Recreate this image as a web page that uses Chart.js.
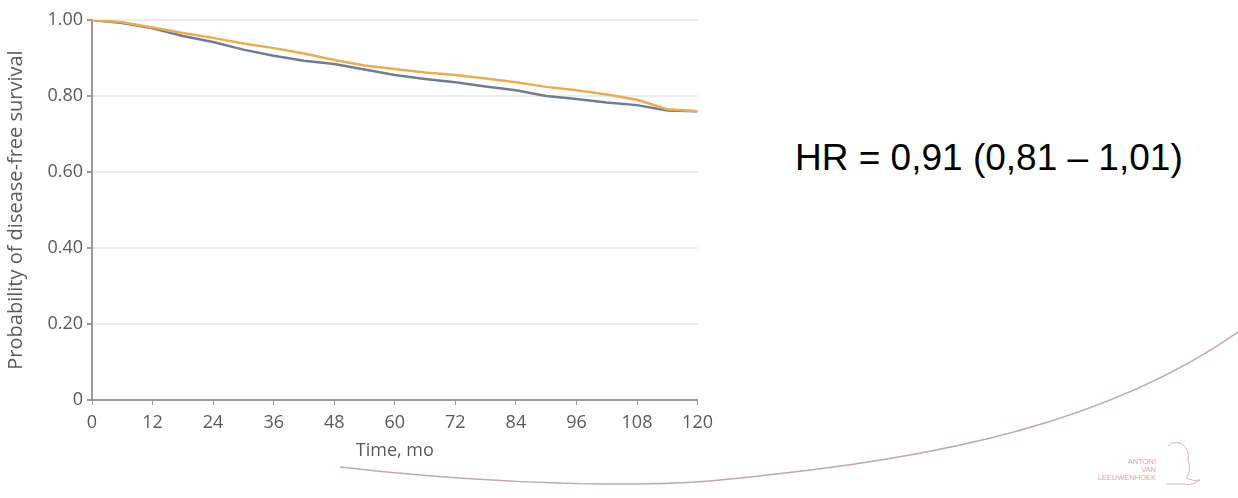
<!DOCTYPE html>
<html>
<head>
<meta charset="utf-8">
<script src="https://cdn.jsdelivr.net/npm/chart.js@4.4.1/dist/chart.umd.min.js"></script>
<style>
  html, body { margin: 0; padding: 0; background: #ffffff; }
  body { width: 1238px; height: 498px; position: relative; overflow: hidden; }
  #wrap { position: absolute; left: 0; top: 0; width: 720px; height: 462px; }
  #hr { position: absolute; left: 795px; top: 137px; font-family: "Liberation Sans", Arial, sans-serif; font-size: 37px; color: #000; white-space: nowrap; }
  #deco { position: absolute; left: 0; top: 0; }
  .logo { position: absolute; font-family: "Liberation Sans", Arial, sans-serif; font-size: 7.5px; color: #d3a7b3; text-align: right; line-height: 8px; }
</style>
</head>
<body>
<svg id="deco" width="1238" height="498">
  <path d="M 340 467 C 450 480, 620 490, 720 480 C 890 463, 1088 437, 1238 332" fill="none" stroke="#c7a3ae" stroke-width="1.5"/>
  <path d="M 1168 446 q 6 -6 14 -2 q 8 6 6 16 q 4 10 -2 18 q 8 4 14 2 q -8 6 -16 4 l -18 0" fill="none" stroke="#dcb5c0" stroke-width="1"/>
</svg>
<div class="logo" style="left:1094px; top:458px; width:62px;">ANTONI<br>VAN<br>LEEUWENHOEK</div>
<div id="wrap"><canvas id="c"></canvas></div>
<div id="hr">HR = 0,91 (0,81 – 1,01)</div>
<script>
// Time in months
const months = [0, 6, 12, 18, 24, 30, 36, 42, 48, 54, 60, 66, 72, 78, 84, 90, 96, 102, 108, 114, 120];
// Disease-free survival, grey/blue arm
const survivalGrey = [1.000, 0.992, 0.978, 0.958, 0.942, 0.922, 0.906, 0.893, 0.884, 0.870, 0.855, 0.845, 0.836, 0.825, 0.815, 0.800, 0.792, 0.783, 0.776, 0.762, 0.760];
// Disease-free survival, orange arm
const survivalOrange = [1.000, 0.994, 0.980, 0.966, 0.953, 0.938, 0.926, 0.912, 0.895, 0.880, 0.871, 0.862, 0.855, 0.846, 0.836, 0.824, 0.815, 0.804, 0.790, 0.765, 0.760];
// Axis ticks
const xTicks = [0, 12, 24, 36, 48, 60, 72, 84, 96, 108, 120];
const yTicks = [0, 0.2, 0.4, 0.6, 0.8, 1.0];
const yTickLabels = ["0", "0.20", "0.40", "0.60", "0.80", "1.00"];
const xTitle = "Time, mo";
const yTitle = "Probability of disease-free survival";

const toPts = (xs, ys) => xs.map((x, i) => ({ x: x, y: ys[i] }));

const tickFont = { family: "'Open Sans', sans-serif", size: 18 };
const textColor = "#5a5a5a";
const axisColor = "#9a9a9a";

new Chart(document.getElementById("c"), {
  type: "line",
  data: {
    datasets: [
      {
        label: "Orange",
        data: toPts(months, survivalOrange),
        borderColor: "#e9ac55",
        borderWidth: 2.5,
        pointRadius: 0,
        tension: 0,
        fill: false
      },
      {
        label: "Grey",
        data: toPts(months, survivalGrey),
        borderColor: "#717d8e",
        borderWidth: 2.5,
        pointRadius: 0,
        tension: 0,
        fill: false
      }
    ]
  },
  options: {
    responsive: true,
    maintainAspectRatio: false,
    animation: false,
    layout: { padding: { left: 0, right: 22, top: 20, bottom: 0 } },
    plugins: {
      legend: { display: false },
      tooltip: { enabled: false }
    },
    scales: {
      x: {
        type: "linear",
        min: 0,
        max: 120,
        afterBuildTicks: (s) => { s.ticks = xTicks.map(v => ({ value: v })); },
        afterFit: (s) => { s.height = 62; },
        ticks: {
          font: tickFont,
          color: textColor,
          padding: 7,
          maxRotation: 0,
          autoSkip: false
        },
        grid: {
          drawOnChartArea: false,
          drawTicks: true,
          tickLength: 5,
          tickColor: axisColor,
          lineWidth: 1
        },
        border: { display: true, color: axisColor, width: 2 },
        title: {
          display: true,
          text: xTitle,
          font: { family: "'Open Sans', sans-serif", size: 18 },
          color: textColor,
          padding: { top: 0, bottom: 0 }
        }
      },
      y: {
        type: "linear",
        min: 0,
        max: 1,
        afterBuildTicks: (s) => { s.ticks = yTicks.map(v => ({ value: v })); },
        afterFit: (s) => { s.width = 92; },
        ticks: {
          font: tickFont,
          color: textColor,
          padding: 4,
          callback: (v) => { const i = yTicks.findIndex(t => Math.abs(t - v) < 1e-6); return i >= 0 ? yTickLabels[i] : ""; }
        },
        grid: {
          color: (ctx) => ctx.tick && ctx.tick.value === 0 ? "rgba(0,0,0,0)" : "#ececec",
          lineWidth: 2,
          drawTicks: true,
          tickLength: 5,
          tickColor: axisColor
        },
        border: { display: true, color: axisColor, width: 2 },
        title: {
          display: true,
          text: yTitle,
          font: { family: "'Open Sans', sans-serif", size: 20 },
          color: textColor,
          padding: { top: 4, bottom: 0 }
        }
      }
    }
  }
});
</script>
</body>
</html>
